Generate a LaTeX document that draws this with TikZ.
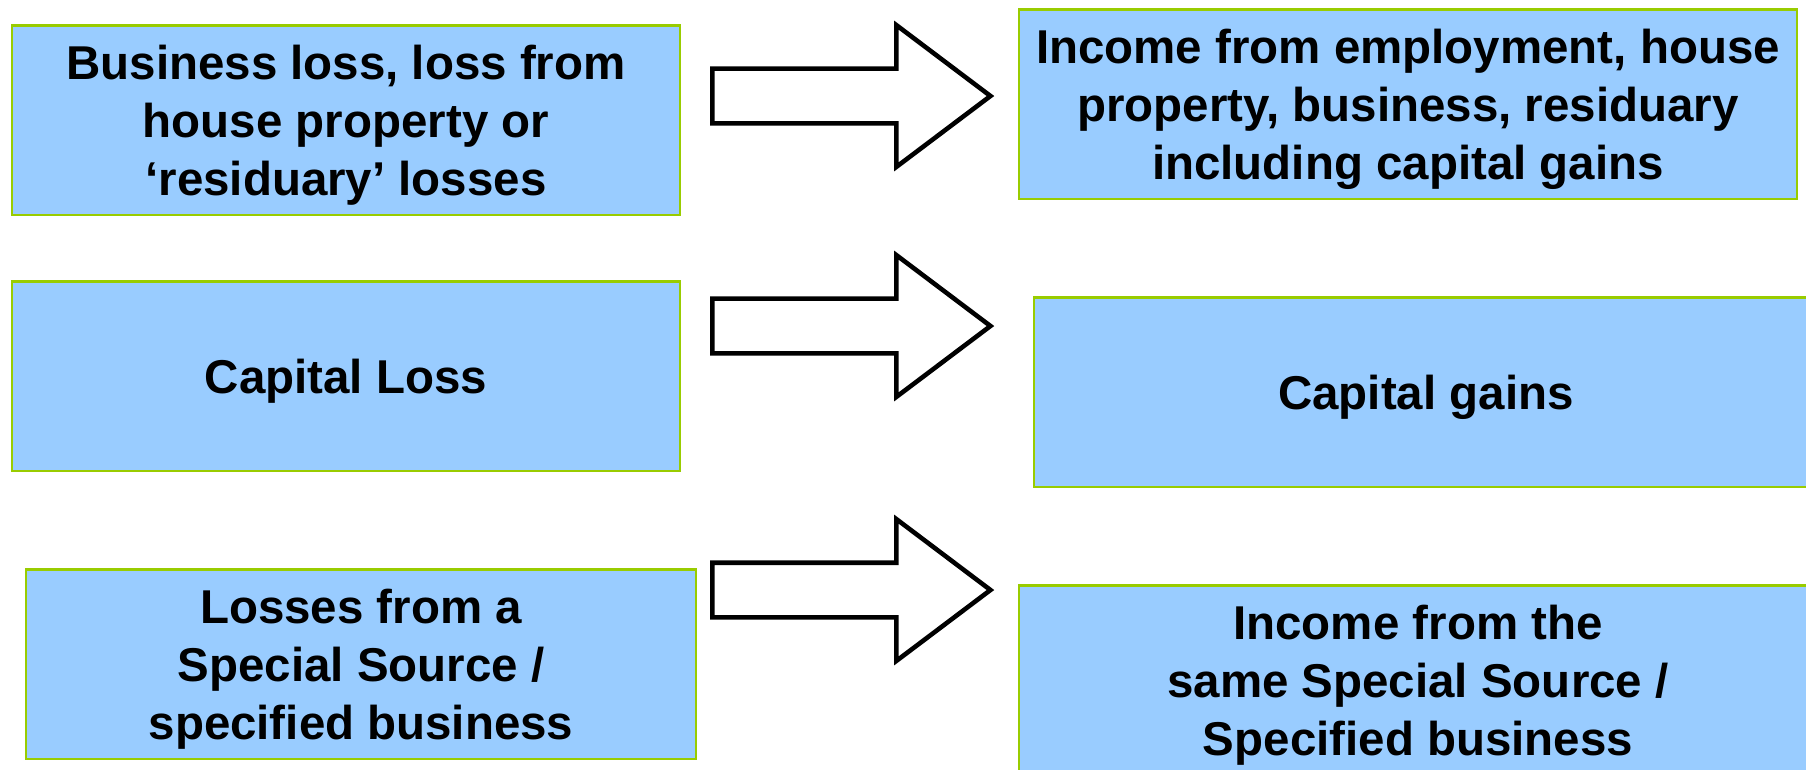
\documentclass[tikz,border=0pt]{standalone}
\usepackage{fontspec}
\setmainfont{Liberation Sans}
\usetikzlibrary{shapes.arrows}
\definecolor{boxblue}{HTML}{99CCFF}
\definecolor{boxgreen}{HTML}{99CC00}
\tikzset{
x=0.01cm, y=-0.01cm,% one unit per pixel, y runs down
every node/.style={font=\bfseries\fontsize{13.5pt}{16.5pt}\selectfont, align=center},
lossbox/.style={draw=boxgreen, line width=0.6pt, fill=boxblue, inner sep=0pt,
  minimum height=1.89cm, text depth=0pt}, % the blue boxes
setoff/.style={single arrow, draw=black, line width=1.3pt, fill=white,
  inner xsep=0pt, inner ysep=0.25cm, anchor=tail,
  minimum height=2.78cm,
  single arrow head extend=0.435cm, single arrow tip angle=74}, % the hollow arrows
}

\begin{document}
\begin{tikzpicture}
       \useasboundingbox (0,0) rectangle (1806,769);

       % left column: losses
       \node[lossbox, minimum width=6.68cm] (bizloss) at (346,120)
             {Business loss, loss from\\house property or\\`residuary' losses};
       \node[lossbox, minimum width=6.68cm] (caploss) at (346,376) {Capital Loss};
       \node[lossbox, minimum width=6.69cm] (specloss) at (361,664)
             {Losses from a\\Special Source /\\specified business};

       % right column: income
       \node[lossbox, minimum width=7.78cm] (income) at (1408,104)
             {Income from employment, house\\property, business, residuary\\including capital gains};
       \node[lossbox, minimum width=7.84cm] (capgain) at (1426,392) {Capital gains};
       \node[lossbox, minimum width=7.98cm] (specinc) at (1418,680)
             {Income from the\\same Special Source /\\Specified business};

       % set-off arrows, placed by their tails
       \node[setoff] (set1) at (710,96) {};
       \node[setoff] (set2) at (710,326) {};
       \node[setoff] (set3) at (710,590) {};

  \end{tikzpicture}
\end{document}
